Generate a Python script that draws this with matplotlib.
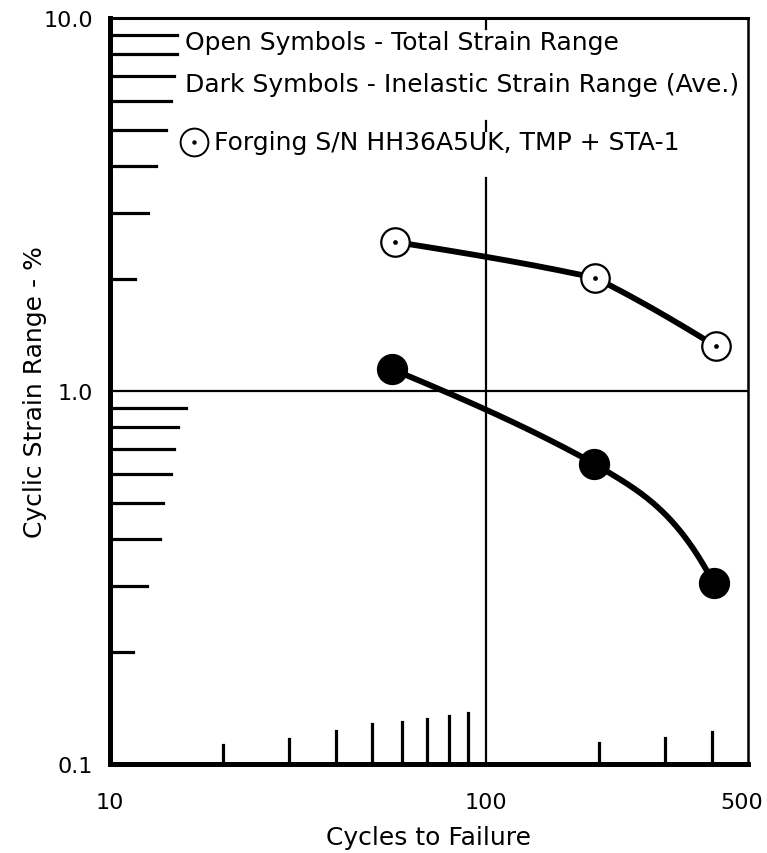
import matplotlib
matplotlib.use("Agg")
import matplotlib.pyplot as plt
import matplotlib.transforms as mtransforms
import numpy as np

plt.rcParams["font.family"] = ["DejaVu Sans"]

# cycles to failure and strain range (%)
total_cycles = [57.5, 196, 410]
total_strain = [2.51, 2.01, 1.32]
inelastic_cycles = [56.5, 195, 405]
inelastic_strain = [1.143, 0.638, 0.305]

x_ticks = [10, 100, 500]
x_tick_labels = ["10", "100", "500"]
y_ticks = [0.1, 1.0, 10.0]
y_tick_labels = ["0.1", "1.0", "10.0"]

legend_lines = [
    "Open Symbols - Total Strain Range",
    "Dark Symbols - Inelastic Strain Range (Ave.)",
]
specimen_label = "Forging S/N HH36A5UK, TMP + STA-1"

# hand-drawn minor tick lengths (pixels) for multipliers 2..9
y_tick_len_upper = [25, 38, 46, 56, 61, 64, 67, 67]
y_tick_len_lower = [23, 37, 50, 53, 61, 64, 68, 76]
x_tick_len_lower = [19, 25, 33, 40, 42, 45, 48, 51]
x_tick_len_upper = [21, 26, 32]

# log-log end slopes of each drawn segment (start, end)
total_tangents = [(-0.16, -0.22), (-0.50, -0.62)]
inelastic_tangents = [(-0.42, -0.56), (-0.62, -1.95)]

W, H = 767, 854
fig = plt.figure(figsize=(W / 100, H / 100), dpi=100)
ax = fig.add_axes([110 / W, 1 - 765 / H, 638 / W, 746 / H])
ax.set_xscale("log")
ax.set_yscale("log")
ax.set_xlim(10, 500)
ax.set_ylim(0.1, 10)

ax_w_px, ax_h_px = 638, 746

# decade grid lines (the vertical one is broken where the key is pasted on)
ax.axhline(1.0, color="black", lw=1.6, zorder=1)
for lo, hi in [(0.0, 0.7855), (0.8485, 0.862), (0.985, 1.0)]:
    ax.axvline(100, ymin=lo, ymax=hi, color="black", lw=1.6, zorder=1)

# minor ticks drawn inside the axes with growing lengths
mults = np.arange(2, 10)
for m, ln in zip(mults, y_tick_len_upper):
    ax.axhline(m * 1.0, xmin=0, xmax=ln / ax_w_px, color="black", lw=2.3, zorder=2)
for m, ln in zip(mults, y_tick_len_lower):
    ax.axhline(m * 0.1, xmin=0, xmax=ln / ax_w_px, color="black", lw=2.3, zorder=2)
for m, ln in zip(mults, x_tick_len_lower):
    ax.axvline(m * 10, ymin=0, ymax=ln / ax_h_px, color="black", lw=2.3, zorder=2)
for m, ln in zip(mults[:3], x_tick_len_upper):
    ax.axvline(m * 100, ymin=0, ymax=ln / ax_h_px, color="black", lw=2.3, zorder=2)


def hermite_curve(xs, ys, seg_slopes, n=80):
    lx, ly = np.log10(xs), np.log10(ys)
    t = np.linspace(0, 1, n)
    h00 = 2 * t**3 - 3 * t**2 + 1
    h10 = t**3 - 2 * t**2 + t
    h01 = -2 * t**3 + 3 * t**2
    h11 = t**3 - t**2
    px, py = [], []
    for i, (d0, d1) in enumerate(seg_slopes):
        h = lx[i + 1] - lx[i]
        px.append(lx[i] + t * h)
        py.append(h00 * ly[i] + h10 * h * d0 + h01 * ly[i + 1] + h11 * h * d1)
    return 10 ** np.concatenate(px), 10 ** np.concatenate(py)


cx, cy = hermite_curve(total_cycles, total_strain, total_tangents)
ax.plot(cx, cy, color="black", lw=4.2, solid_capstyle="round", zorder=3)
cx, cy = hermite_curve(inelastic_cycles, inelastic_strain, inelastic_tangents)
ax.plot(cx, cy, color="black", lw=4.2, solid_capstyle="round", zorder=3)

ax.plot(total_cycles, total_strain, "o", ms=20.5, mfc="white", mec="black", mew=1.6, zorder=4)
ax.plot(total_cycles, total_strain, "o", ms=2.4, color="black", zorder=5)
ax.plot(inelastic_cycles, inelastic_strain, "o", ms=21.5, color="black", zorder=4)

# key
ax.text(0.1176, 0.968, legend_lines[0], transform=ax.transAxes, fontsize=18,
        ha="left", va="center", zorder=6)
ax.text(0.1176, 0.912, legend_lines[1], transform=ax.transAxes, fontsize=18,
        ha="left", va="center", zorder=6)
ax.plot([0.1317], [0.834], "o", transform=ax.transAxes, ms=20, mfc="white",
        mec="black", mew=1.4, zorder=7, clip_on=False)
ax.plot([0.1317], [0.834], "o", transform=ax.transAxes, ms=2.2, color="black", zorder=8)
ax.text(0.163, 0.834, specimen_label, transform=ax.transAxes, fontsize=18,
        ha="left", va="center", zorder=6)

ax.set_xticks(x_ticks)
ax.set_xticklabels(x_tick_labels)
ax.set_yticks(y_ticks)
ax.set_yticklabels(y_tick_labels)
ax.minorticks_off()
ax.tick_params(length=0, labelsize=16)
ax.tick_params(axis="x", pad=20)
ax.tick_params(axis="y", pad=12)

# nudge the last x label inwards so it stays on the page
last = ax.get_xticklabels()[-1]
last.set_transform(last.get_transform()
                   + mtransforms.ScaledTranslation(-0.06, 0, fig.dpi_scale_trans))

ax.set_xlabel("Cycles to Failure", fontsize=18)
ax.xaxis.set_label_coords(0.5, (765 - 838) / ax_h_px)
ax.xaxis.label.set_va("center")
ax.set_ylabel("Cyclic Strain Range - %", fontsize=18)
ax.yaxis.set_label_coords((35 - 110) / ax_w_px, 0.5)
ax.yaxis.label.set_va("center")

ax.spines["left"].set_linewidth(3.6)
ax.spines["bottom"].set_linewidth(3.6)
ax.spines["top"].set_linewidth(2.2)
ax.spines["right"].set_linewidth(1.8)

fig.savefig("out.png", dpi=100, facecolor="white")
